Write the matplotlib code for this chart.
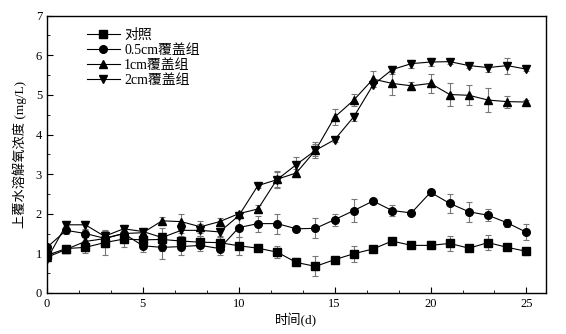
import numpy as np
import matplotlib
matplotlib.use("Agg")
import matplotlib.pyplot as plt
from matplotlib.ticker import MultipleLocator

plt.rcParams['font.family'] = ['Liberation Serif', 'Noto Sans CJK SC']
plt.rcParams['axes.unicode_minus'] = False

days = np.arange(0, 26)

# dissolved oxygen (mg/L) and error for each treatment
control = [0.95, 1.12, 1.15, 1.27, 1.36, 1.34, 1.35, 1.31, 1.28, 1.27, 1.19, 1.13, 1.03, 0.77, 0.67, 0.84,
           0.99, 1.11, 1.31, 1.20, 1.20, 1.25, 1.13, 1.27, 1.15, 1.05]
control_err = [0.1, 0.08, 0.15, 0.3, 0.2, 0.15, 0.3, 0.2, 0.15, 0.15, 0.22, 0.05, 0.15, 0.1, 0.25, 0.05,
               0.2, 0.05, 0.05, 0.05, 0.1, 0.18, 0.05, 0.18, 0.05, 0.08]

cover05 = [1.15, 1.58, 1.50, 1.38, 1.50, 1.19, 1.15, 1.17, 1.20, 1.12, 1.65, 1.75, 1.75, 1.62, 1.63, 1.85,
           2.08, 2.32, 2.08, 2.02, 2.54, 2.26, 2.05, 1.96, 1.77, 1.53]
cover05_err = [0.05, 0.1, 0.1, 0.1, 0.1, 0.15, 0.3, 0.2, 0.15, 0.15, 0.25, 0.2, 0.25, 0.05, 0.25, 0.15,
               0.3, 0.05, 0.15, 0.05, 0.05, 0.25, 0.25, 0.15, 0.1, 0.2]

cover1 = [0.90, 1.10, 1.30, 1.37, 1.50, 1.52, 1.82, 1.80, 1.67, 1.80, 2.00, 2.12, 2.87, 3.03, 3.60, 4.44,
          4.87, 5.40, 5.29, 5.23, 5.29, 5.01, 4.99, 4.87, 4.83, 4.82]
cover1_err = [0.05, 0.05, 0.1, 0.2, 0.15, 0.1, 0.1, 0.2, 0.15, 0.1, 0.05, 0.1, 0.2, 0.1, 0.2, 0.2,
              0.15, 0.2, 0.3, 0.1, 0.25, 0.3, 0.25, 0.3, 0.15, 0.05]

cover2 = [0.85, 1.72, 1.72, 1.43, 1.62, 1.55, 1.40, 1.58, 1.58, 1.54, 1.95, 2.71, 2.86, 3.24, 3.60, 3.87,
          4.45, 5.25, 5.64, 5.79, 5.83, 5.84, 5.74, 5.69, 5.74, 5.65]
cover2_err = [0.05, 0.1, 0.1, 0.15, 0.1, 0.1, 0.1, 0.15, 0.15, 0.1, 0.05, 0.05, 0.2, 0.2, 0.15, 0.05,
              0.1, 0.05, 0.1, 0.1, 0.1, 0.05, 0.05, 0.1, 0.2, 0.05]

series = [
    ("对照", control, control_err, "s"),
    ("0.5cm覆盖组", cover05, cover05_err, "o"),
    ("1cm覆盖组", cover1, cover1_err, "^"),
    ("2cm覆盖组", cover2, cover2_err, "v"),
]

fig = plt.figure(figsize=(5.66, 3.34), dpi=100)
ax = fig.add_axes([0.083, 0.123, 0.881, 0.830])

for label, vals, err, mk in series:
    ax.errorbar(days, vals, yerr=err, fmt='none', ecolor='#777777', elinewidth=0.8,
                capsize=2, capthick=0.8, zorder=1)
    ax.plot(days, vals, color='black', marker=mk, markersize=5.5, linewidth=0.8,
            label=label, zorder=2)

ax.set_xlim(0, 26)
ax.set_ylim(0, 7)
ax.xaxis.set_major_locator(MultipleLocator(5))
ax.xaxis.set_minor_locator(MultipleLocator(5 / 3))
ax.yaxis.set_major_locator(MultipleLocator(1))
ax.yaxis.set_minor_locator(MultipleLocator(0.5))
ax.tick_params(which='both', direction='in', top=False, right=False, labelsize=9)
ax.tick_params(which='major', length=4)
ax.tick_params(which='minor', length=2)
for s in ax.spines.values():
    s.set_linewidth(1.0)

ax.set_xlabel("时间(d)", fontsize=9.5, labelpad=2)
ax.set_ylabel("上覆水溶解氧浓度 (mg/L)", fontsize=9.5, labelpad=6)

ax.legend(loc='upper left', bbox_to_anchor=(0.06, 0.99), frameon=False, fontsize=10,
          handlelength=2.4, handletextpad=0.3, labelspacing=0.15, borderaxespad=0.3)

fig.savefig("out.png", dpi=100)
